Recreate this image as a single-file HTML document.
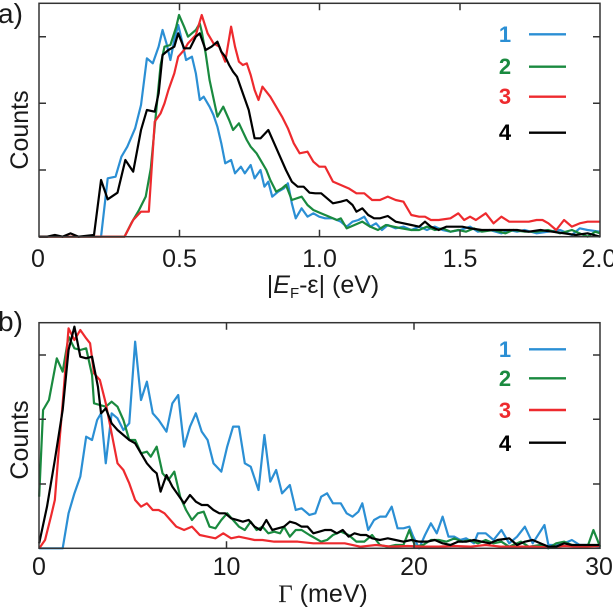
<!DOCTYPE html>
<html><head><meta charset="utf-8"><style>html,body{margin:0;padding:0;background:#fff}svg{display:block}</style></head><body>
<svg width="613" height="610" viewBox="0 0 613 610" xmlns="http://www.w3.org/2000/svg" font-family="Liberation Sans, sans-serif">
<g transform="scale(0.39170,0.33333)" fill="none" stroke-linejoin="round">
<g stroke-width="2.2" vector-effect="non-scaling-stroke">
<polyline vector-effect="non-scaling-stroke" stroke="#2b8fd4" points="100,710 258,710 275,535 295,530 310,470 325,440 345,385 360,315 375,175 390,190 405,140 415,90 425,130 435,180 445,120 455,75 465,125 475,180 490,170 500,220 510,300 520,290 535,320 545,345 555,380 565,430 575,490 590,480 600,520 615,500 625,520 640,495 650,535 665,510 675,560 685,545 695,590 710,575 725,565 735,550 745,610 755,655 770,625 785,650 800,640 815,650 830,655 850,655 870,665 885,680 900,665 915,660 930,650 945,680 960,670 975,690 990,675 1010,685 1030,680 1050,690 1070,680 1090,690 1110,680 1130,690 1150,695 1175,690 1200,680 1220,695 1250,690 1280,700 1300,690 1320,695 1340,690 1370,700 1400,695 1430,690 1460,705 1480,685 1500,690 1532,695"/>
<polyline vector-effect="non-scaling-stroke" stroke="#1a8a3f" points="100,710 318,710 335,670 355,630 372,590 385,505 395,380 410,195 420,140 435,135 450,80 457,45 470,80 480,110 490,100 500,90 510,70 515,95 525,160 535,240 545,295 555,350 570,320 585,360 595,390 610,370 620,395 630,420 640,440 655,460 670,490 680,510 690,540 705,575 720,565 730,555 745,600 770,590 785,615 800,630 820,640 840,650 860,660 870,655 885,685 905,675 925,665 945,680 965,690 985,675 1005,680 1025,685 1050,690 1070,690 1090,680 1110,690 1130,685 1150,695 1170,690 1190,695 1210,685 1230,695 1260,690 1290,700 1310,690 1340,695 1370,695 1400,690 1430,700 1460,690 1480,700 1500,710 1520,695 1532,700"/>
<polyline vector-effect="non-scaling-stroke" stroke="#ee2a2e" points="100,710 318,710 340,660 360,635 380,635 395,365 410,340 420,310 430,270 445,220 455,170 470,150 480,130 500,105 515,45 530,100 545,130 560,140 575,185 590,80 600,140 610,185 620,195 630,190 640,225 650,270 660,300 670,260 690,290 705,320 720,350 735,385 750,430 765,460 785,455 800,485 815,500 830,500 850,545 870,555 890,565 910,580 930,580 950,600 970,600 990,590 1010,600 1030,605 1050,645 1070,650 1085,650 1100,660 1120,660 1150,655 1170,640 1185,660 1200,650 1215,660 1240,640 1260,670 1280,650 1300,665 1320,665 1350,665 1370,660 1385,660 1400,670 1420,690 1440,660 1460,680 1480,670 1500,665 1532,665"/>
<polyline vector-effect="non-scaling-stroke" stroke="#000" points="100,710 120,710 140,705 160,710 180,700 200,710 240,705 258,540 275,598 300,578 320,480 340,515 360,390 375,330 395,335 405,280 415,165 430,150 445,140 455,100 470,145 485,145 500,110 510,100 525,150 540,140 555,125 565,155 575,170 585,195 595,215 605,230 620,280 635,330 650,415 665,415 685,390 700,430 715,470 730,510 745,545 760,560 775,560 790,578 805,580 820,580 835,595 850,610 870,605 885,600 900,615 910,635 925,625 940,645 955,655 970,655 990,648 1010,665 1030,670 1050,675 1070,680 1085,665 1100,680 1120,690 1140,680 1160,680 1180,680 1200,685 1230,690 1260,690 1290,690 1320,690 1350,695 1380,690 1410,695 1440,700 1470,705 1500,700 1532,710"/>
<g transform="translate(0,900)">
<polyline vector-effect="non-scaling-stroke" stroke="#2b8fd4" points="100,745 160,745 175,640 190,580 205,530 220,410 235,420 248,360 258,340 270,490 285,340 300,355 315,390 330,370 345,125 360,300 375,245 390,340 405,360 425,395 440,310 455,285 470,440 485,380 500,340 515,395 530,420 545,490 565,515 580,440 595,380 610,380 625,490 640,500 660,570 675,405 690,545 705,510 720,580 740,555 755,630 770,625 790,645 805,640 820,590 835,580 850,610 870,610 885,640 900,650 915,635 925,610 940,690 955,660 970,650 985,650 1000,620 1015,685 1030,685 1045,680 1055,710 1070,745 1085,705 1100,670 1115,700 1130,650 1145,710 1160,710 1175,720 1190,715 1210,730 1220,700 1240,700 1260,720 1280,690 1300,730 1320,710 1340,680 1360,730 1390,675 1400,735 1420,735 1440,730 1460,720 1480,735 1500,735 1532,740"/>
<polyline vector-effect="non-scaling-stroke" stroke="#1a8a3f" points="100,590 110,330 125,300 145,175 160,215 175,110 190,145 205,150 220,145 235,225 240,310 255,315 270,320 285,305 300,320 315,360 330,420 345,420 360,460 375,455 385,470 400,440 415,520 430,540 445,515 460,590 475,630 490,660 505,640 520,635 535,680 550,685 565,660 580,640 595,660 610,680 625,690 640,665 655,690 670,680 685,700 700,695 715,700 725,680 740,710 755,690 770,690 790,705 805,715 820,725 835,720 850,705 870,695 890,705 910,725 930,725 950,705 970,735 990,740 1010,735 1030,735 1045,690 1060,740 1080,735 1100,720 1120,720 1140,725 1160,715 1180,725 1200,720 1220,730 1240,720 1260,730 1280,725 1300,740 1330,725 1350,740 1380,735 1400,745 1420,730 1440,725 1460,735 1480,740 1500,740 1515,690 1532,740"/>
<polyline vector-effect="non-scaling-stroke" stroke="#ee2a2e" points="100,745 115,720 130,650 140,600 150,450 160,310 175,85 190,120 205,90 220,115 230,130 240,220 255,240 270,310 285,400 300,490 315,510 330,550 345,600 360,620 375,610 390,630 405,630 420,640 435,660 450,680 470,690 490,680 510,705 530,710 550,715 570,700 590,715 610,710 630,715 650,720 670,720 700,725 730,725 760,725 800,730 840,730 880,730 920,740 960,735 1000,740 1040,738 1080,740 1120,740 1160,738 1200,740 1240,735 1280,740 1320,740 1360,740 1400,742 1440,738 1480,740 1532,738"/>
<polyline vector-effect="non-scaling-stroke" stroke="#000" points="100,730 120,620 140,480 160,330 175,150 190,80 205,170 220,175 235,170 250,260 258,340 270,325 285,370 300,390 315,405 330,420 345,430 360,460 375,490 390,510 400,520 410,575 425,525 440,560 455,585 470,610 485,585 500,605 515,615 530,615 545,630 560,640 575,640 590,655 605,660 620,665 635,660 650,680 665,690 680,660 695,690 710,685 725,680 740,665 755,670 770,680 785,680 800,700 815,695 830,690 845,690 860,700 875,690 890,710 905,700 920,705 935,705 950,715 970,720 990,715 1010,720 1030,725 1050,720 1070,725 1090,725 1110,720 1130,730 1150,735 1170,725 1190,725 1210,720 1230,725 1250,730 1270,720 1300,715 1320,735 1340,725 1360,720 1380,730 1400,740 1420,740 1440,730 1460,735 1480,735 1500,735 1532,735"/>
</g>
</g>
</g>
<g fill="none" stroke="#333" stroke-width="1.5">
<rect x="39" y="3.3" width="561" height="233.4"/>
<path d="M179.5,236.7v-7M179.5,3.3v7M319.5,236.7v-7M319.5,3.3v7M460,236.7v-7M460,3.3v7M39,36.7h7M39,103.3h7M39,170h7M600,36.7h-7M600,103.3h-7M600,170h-7"/>
<rect x="39" y="322.7" width="561" height="225.6"/>
<path d="M226.5,548.3v-7M226.5,322.7v7M414,548.3v-7M414,322.7v7M39,355h7M39,419.3h7M39,484h7M600,355h-7M600,419.3h-7M600,484h-7"/>
</g>
<g fill="none" stroke-width="2.4">
<path stroke="#2b8fd4" d="M529,34.3h37"/><path stroke="#1a8a3f" d="M529,66.7h37"/><path stroke="#ee2a2e" d="M529,96.7h37"/><path stroke="#000" d="M529,132.7h37"/>
<path stroke="#2b8fd4" d="M529,349.3h37"/><path stroke="#1a8a3f" d="M529,378.3h37"/><path stroke="#ee2a2e" d="M529,410h37"/><path stroke="#000" d="M529,442.7h37"/>
</g>
<g font-size="25" fill="#1a1a1a">
<text x="-2" y="23" font-size="28">a)</text>
<text x="-2" y="331" font-size="28">b)</text>
<g text-anchor="middle">
<text x="38" y="267">0</text><text x="179.5" y="267">0.5</text><text x="319.5" y="267">1.0</text><text x="460" y="267">1.5</text><text x="599" y="267">2.0</text>
<text x="323" y="293">|<tspan font-style="italic">E</tspan><tspan font-size="15" dy="5">F</tspan><tspan dy="-5">-ε| (eV)</tspan></text>
<text x="39" y="575">0</text><text x="226.5" y="575">10</text><text x="414" y="575">20</text><text x="599" y="575">30</text>
<text x="323" y="602"><tspan font-family="Liberation Serif, serif">Γ</tspan> (meV)</text>
<text transform="translate(28,130) rotate(-90)">Counts</text>
<text transform="translate(28,440) rotate(-90)">Counts</text>
</g>
<g font-weight="bold" text-anchor="middle" font-size="22">
<text x="505" y="42" fill="#2b8fd4">1</text><text x="505" y="74" fill="#1a8a3f">2</text><text x="505" y="104" fill="#ee2a2e">3</text><text x="505" y="140" fill="#000">4</text>
<text x="505" y="357" fill="#2b8fd4">1</text><text x="505" y="386" fill="#1a8a3f">2</text><text x="505" y="418" fill="#ee2a2e">3</text><text x="505" y="451" fill="#000">4</text>
</g>
</g>
</svg>
</body></html>
